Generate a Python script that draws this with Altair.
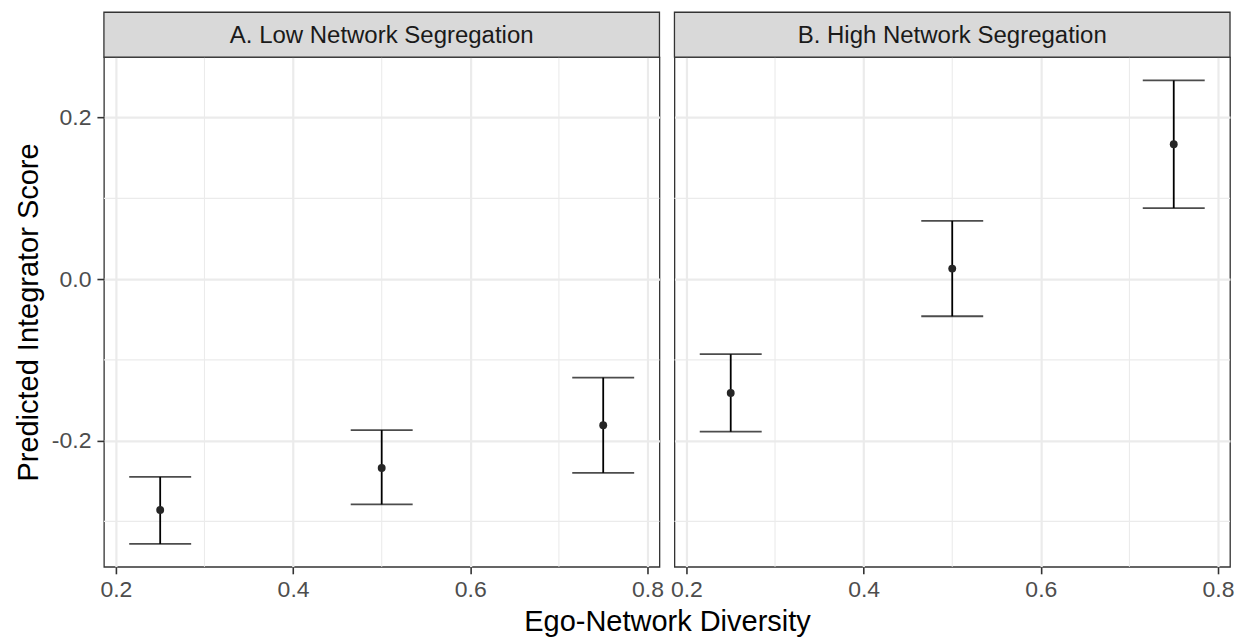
import altair as alt
import pandas as pd

# ---- data ----
panel_labels = ["A. Low Network Segregation", "B. High Network Segregation"]
diversity = [0.25, 0.50, 0.75]
low_est = [-0.286, -0.234, -0.181]
low_lo = [-0.328, -0.279, -0.240]
low_hi = [-0.245, -0.187, -0.122]
high_est = [-0.141, 0.013, 0.167]
high_lo = [-0.189, -0.046, 0.088]
high_hi = [-0.093, 0.072, 0.246]
x_ticks = [0.2, 0.4, 0.6, 0.8]
x_minor = [0.3, 0.5, 0.7]
y_ticks = [-0.2, 0.0, 0.2]
y_minor = [-0.3, -0.1, 0.1]
x_domain = [0.1865, 0.8135]
y_domain = [-0.3563, 0.2748]

# ---- styles ----
W, H = 556, 510
STRIP = 45
SPACING = 15
FONT = "Liberation Sans"
GRID = "#EBEBEB"
DARK = "#333333"


def x_enc(field, first):
    axis_kw = dict(
        values=x_ticks, format=".1f", grid=True, gridColor=GRID, gridWidth=2.2,
        domain=False, tickColor=DARK, tickSize=7, tickWidth=1.6,
        labelColor="#4D4D4D", labelFontSize=23, labelFont=FONT, labelPadding=5,
        labelFlush=False,
    )
    if first:
        axis_kw.update(
            title="Ego-Network Diversity", titleFont=FONT, titleFontSize=29,
            titleFontWeight="normal", titleColor="black", titlePadding=6,
            titleX=W + SPACING / 2, titleAlign="center",
        )
    else:
        axis_kw.update(title="")
    return alt.X(f"{field}:Q", scale=alt.Scale(domain=x_domain, nice=False, zero=False),
                 axis=alt.Axis(**axis_kw))


def y_enc(field, first):
    if first:
        axis = alt.Axis(
            values=y_ticks, labelExpr="replace(format(datum.value, '.1f'), '\u2212', '-')",
            grid=True, gridColor=GRID, gridWidth=2.2, domain=False,
            tickColor=DARK, tickSize=7, tickWidth=1.6,
            labelColor="#4D4D4D", labelFontSize=23, labelFont=FONT, labelPadding=6,
            labelFlush=False,
            title="Predicted Integrator Score", titleFont=FONT, titleFontSize=29,
            titleFontWeight="normal", titleColor="black", titlePadding=8,
        )
    else:
        axis = alt.Axis(values=y_ticks, grid=True, gridColor=GRID, gridWidth=2.2,
                        domain=False, ticks=False, labels=False, title="")
    return alt.Y(f"{field}:Q", scale=alt.Scale(domain=y_domain, nice=False, zero=False),
                 axis=axis)


def panel(label, est, lo, hi, first):
    df = pd.DataFrame({"x": diversity, "est": est, "lo": lo, "hi": hi})
    vminor = alt.Chart(pd.DataFrame({"v": x_minor})).mark_rule(
        color=GRID, strokeWidth=1.1).encode(x=x_enc("v", first))
    hminor = alt.Chart(pd.DataFrame({"h": y_minor})).mark_rule(
        color=GRID, strokeWidth=1.1).encode(y=y_enc("h", first))
    base = alt.Chart(df)
    bars = base.mark_rule(color="black", strokeWidth=1.8).encode(
        x=x_enc("x", first), y=y_enc("lo", first), y2="hi:Q")
    cap_lo = base.mark_tick(orient="horizontal", size=62, thickness=1.8, color="black").encode(
        x=x_enc("x", first), y=y_enc("lo", first))
    cap_hi = base.mark_tick(orient="horizontal", size=62, thickness=1.8, color="black").encode(
        x=x_enc("x", first), y=y_enc("hi", first))
    pts = base.mark_point(filled=True, size=62, color="#262626", opacity=1).encode(
        x=x_enc("x", first), y=y_enc("est", first))
    strip_df = pd.DataFrame({"label": [label]})
    strip = alt.Chart(strip_df).mark_rect(
        fill="#D9D9D9", stroke=DARK, strokeWidth=1.3).encode(
        x=alt.value(0), x2=alt.value(W), y=alt.value(-STRIP), y2=alt.value(0))
    strip_text = alt.Chart(strip_df).mark_text(
        font=FONT, fontSize=24, color="#1A1A1A", align="center", baseline="middle").encode(
        x=alt.value(W / 2), y=alt.value(-STRIP / 2 + 1), text="label:N")
    return alt.layer(vminor, hminor, bars, cap_lo, cap_hi, pts, strip, strip_text).properties(
        width=W, height=H)


chart = alt.hconcat(
    panel(panel_labels[0], low_est, low_lo, low_hi, True),
    panel(panel_labels[1], high_est, high_lo, high_hi, False),
    spacing=SPACING, bounds="flush",
).properties(
    padding={"left": 5, "top": 2, "right": 5, "bottom": 0},
    background="white",
).configure_view(
    stroke=DARK, strokeWidth=1.3,
)

chart.save("out.html", embed_options={"renderer": "svg", "actions": False})
